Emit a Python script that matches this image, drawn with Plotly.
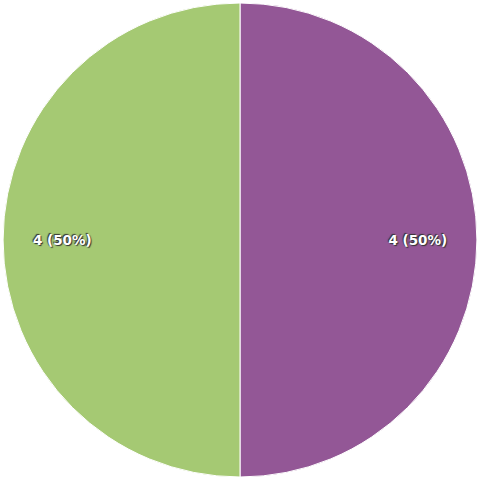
import plotly.graph_objects as go

labels = ["A", "B"]
values = [4, 4]
colors = ["#935796", "#A5C973"]

fig = go.Figure()
fig.add_trace(go.Pie(
    labels=labels,
    values=values,
    sort=False,
    direction="clockwise",
    rotation=0,
    marker=dict(colors=colors, line=dict(color="white", width=1)),
    textinfo="none",
    hoverinfo="skip",
    showlegend=False,
))
# transparent overlay ring used only to place the labels near the rim
fig.add_trace(go.Pie(
    labels=labels,
    values=values,
    sort=False,
    direction="clockwise",
    rotation=0,
    hole=0.5,
    marker=dict(colors=["rgba(0,0,0,0)", "rgba(0,0,0,0)"], line=dict(width=0)),
    texttemplate="%{value} (%{percent:.0%})",
    textposition="inside",
    insidetextorientation="horizontal",
    textfont=dict(family="DejaVu Sans", size=13.5, color="white", weight="bold",
                  shadow="1px 1px 1px #333, -1px -1px 1px #333"),
    hoverinfo="skip",
    showlegend=False,
))
fig.update_layout(
    width=477, height=479,
    margin=dict(l=3, r=0, t=2, b=1),
    paper_bgcolor="white",
    showlegend=False,
)
fig.write_html("out.html", config={"displayModeBar": False},
               post_script="document.body.style.margin='0';")
